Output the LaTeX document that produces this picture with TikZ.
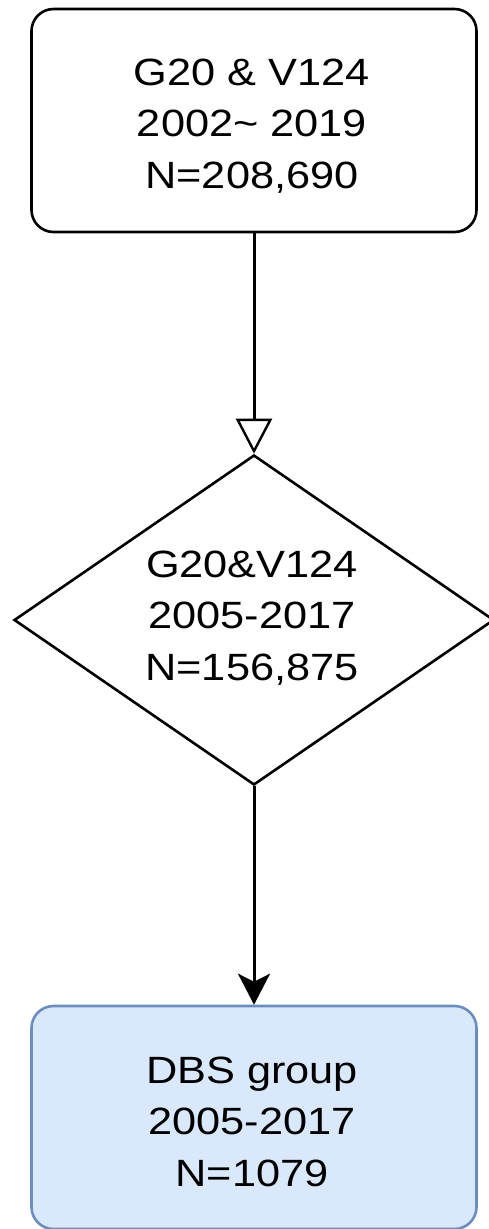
\documentclass[tikz,border=0pt]{standalone}
\usepackage{fontspec}
\setmainfont{Liberation Sans}
\usetikzlibrary{shapes.geometric,arrows.meta}
\definecolor{dbsfill}{HTML}{DAE8FC}
\definecolor{dbsline}{HTML}{6C8EBF}
\tikzset{
  x=1pt, y=-1pt,
  stagebox/.style={rectangle, rounded corners=22pt, draw=black, line width=2.6pt,
    minimum width=445pt, minimum height=223pt, inner sep=0pt},
  filterbox/.style={diamond, draw=black, line width=2.6pt,
    minimum width=480pt, minimum height=330pt, inner sep=0pt},
  resultbox/.style={stagebox, draw=dbsline, fill=dbsfill},
  boxtext/.style={anchor=base, inner sep=0pt},
  link/.style={line width=3pt, draw=black},
}
\newcommand{\flowtext}[3]{%
  \fontsize{38}{51.5}\selectfont
  \scalebox{1.14}[1]{\begin{tabular}[t]{@{}c@{}}#1\\#2\\#3\end{tabular}}}
\begin{document}
\begin{tikzpicture}
  \useasboundingbox (0,0) rectangle (488,1229);

  % cohort boxes
  \node[stagebox]  (src) at (254,120.5) {};
  \node[filterbox] (dia) at (254,620) {};
  \node[resultbox] (dbs) at (254,1117.5) {};

  % labels
  \node[boxtext] (srctext) at (252,85)  {\flowtext{G20 \& V124}{2002\textasciitilde\ 2019}{N=208,690}};
  \node[boxtext] (diatext) at (252,577) {\flowtext{G20\&V124}{2005-2017}{N=156,875}};
  \node[boxtext] (dbstext) at (252,1083) {\flowtext{DBS group}{2005-2017}{N=1079}};

  % connectors
  \draw[link, -{Triangle[open, length=35pt, width=36pt, line width=2.4pt]}] (src.south) -- (dia.north);
  \draw[link, -{Stealth[length=31pt, width=32pt, inset=8pt]}] (dia.south) -- (dbs.north);
\end{tikzpicture}
\end{document}
